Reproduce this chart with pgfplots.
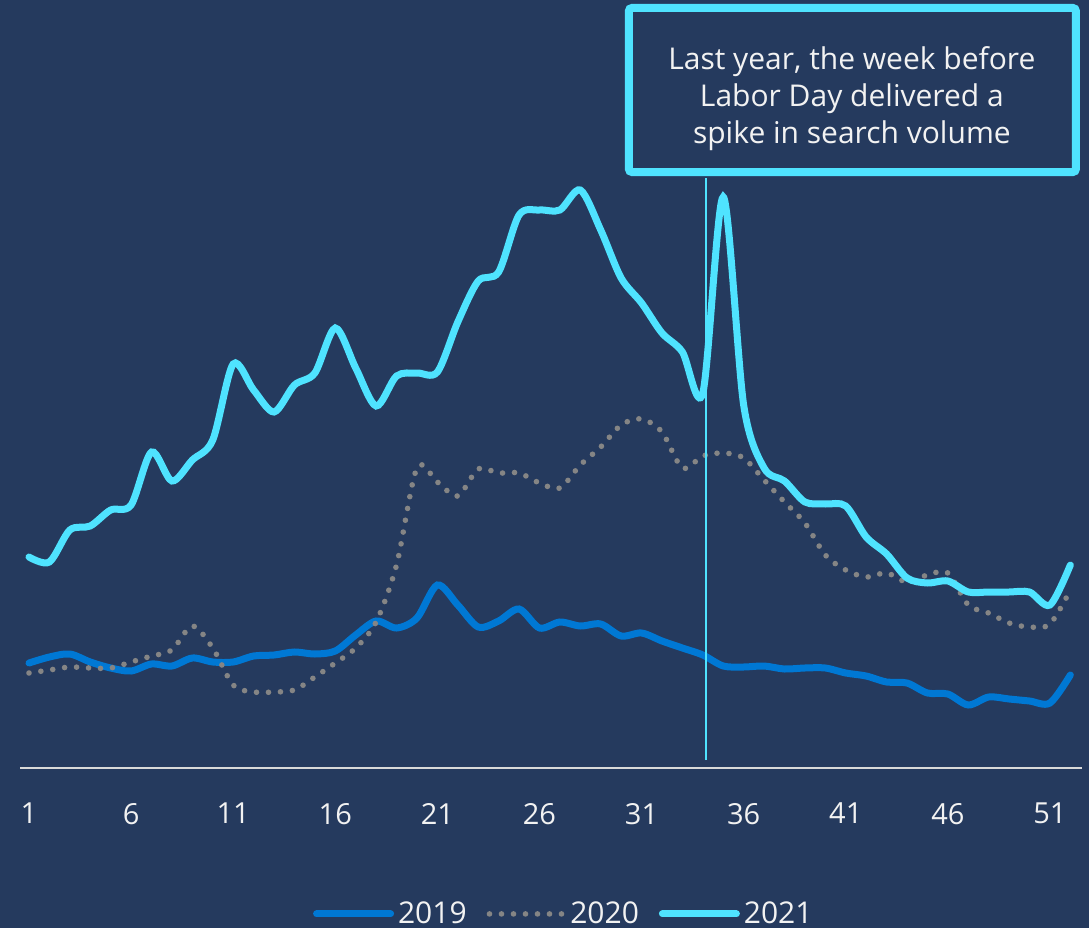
\documentclass[border=0pt]{standalone}
\usepackage{pgfplots}
\pgfplotsset{compat=1.18}
\usepackage{fontspec}
\setmainfont{Open Sans}
\definecolor{bg}{HTML}{253A5E}
\definecolor{cy}{HTML}{4FE3FF}
\definecolor{bl}{HTML}{0078D4}
\definecolor{gr}{HTML}{858585}
\definecolor{tx}{HTML}{F2F2F2}
\definecolor{axl}{HTML}{D9D9D9}
\begin{document}
\begin{tikzpicture}
\fill[bg] (-10pt,-80pt) rectangle (534.5pt,384pt);
\useasboundingbox (-10pt,-80pt) rectangle (534.5pt,384pt);
\begin{axis}[
  at={(0,0)}, anchor=origin,
  scale only axis, width=531pt, height=384pt,
  xmin=0.559, xmax=52.57, ymin=0, ymax=768,
  axis x line=bottom, axis y line=none,
  axis line style={axl, line width=1pt, -},
  xtick={1,6,...,51}, major tick length=0pt,
  xticklabel style={tx, font=\fontsize{14.5}{16}\selectfont, yshift=-14pt},
  /pgf/number format/assume math mode=true,
  clip=false,
  legend style={at={(0.513,-0.19)}, anchor=center, draw=none, fill=none,
    text=tx, font=\fontsize{15}{17}\selectfont, legend columns=3,
    /tikz/every even column/.append style={column sep=8pt}},
  legend image code/.code={\draw[#1] (0pt,0pt) -- (37pt,0pt);},
]
\addplot[bl, line width=3.5pt, smooth, tension=0.5, line cap=round] coordinates {
(1,105)(2,111)(3,114)(4,106)(5,100)(6,97)(7,104)(8,102)(9,110)(10,106)
(11,106)(12,112)(13,113)(14,116)(15,114)(16,117)(17,133)(18,147)(19,140)(20,150)
(21,183)(22,163)(23,141)(24,147)(25,159)(26,140)(27,146)(28,142)(29,144)(30,132)
(31,135)(32,127)(33,120)(34,113)(35,102)(36,101)(37,102)(38,99)(39,100)(40,100)
(41,95)(42,92)(43,86)(44,85)(45,75)(46,74)(47,63)(48,71)(49,69)(50,67)
(51,65)(52,93)};
\addlegendentry{2019}
\addplot[gr, line width=2.8pt, smooth, tension=0.5, line cap=round, dash pattern=on 0pt off 6pt] coordinates {
(1,95)(2,98)(3,101)(4,100)(5,100)(6,106)(7,112)(8,118)(9,142)(10,120)
(11,83)(12,76)(13,76)(14,78)(15,91)(16,105)(17,120)(18,146)(19,203)(20,300)
(21,286)(22,272)(23,299)(24,295)(25,295)(26,285)(27,280)(28,303)(29,321)(30,343)
(31,349)(32,336)(33,300)(34,312)(35,315)(36,310)(37,288)(38,266)(39,245)(40,213)
(41,198)(42,191)(43,195)(44,186)(45,193)(46,195)(47,163)(48,155)(49,145)(50,141)
(51,144)(52,178)};
\addlegendentry{2020}
\addplot[cy, line width=3.5pt, smooth, tension=0.5, line cap=round] coordinates {
(1,211)(2,206)(3,238)(4,242)(5,258)(6,263)(7,316)(8,287)(9,308)(10,328)
(11,404)(12,378)(13,356)(14,383)(15,395)(16,440)(17,400)(18,362)(19,392)(20,395)
(21,396)(22,446)(23,487)(24,496)(25,553)(26,558)(27,558)(28,578)(29,538)(30,490)
(31,465)(32,435)(33,416)(34,375)(35,571)(36,363)(37,300)(38,287)(39,266)(40,264)
(41,262)(42,231)(43,214)(44,190)(45,185)(46,187)(47,176)(48,176)(49,176)(50,176)
(51,163)(52,203)};
\addlegendentry{2021}
\addplot[cy, line width=1pt, forget plot] coordinates {(34.15,8)(34.15,590)};
\draw[cy, line width=4pt, rounded corners=1.5pt, fill=bg] (axis cs:30.38,596) rectangle (axis cs:52.27,760);
\node[tx, align=center, font=\fontsize{15}{18.5}\selectfont] at (axis cs:41.3,669)
  {Last year, the week before\\Labor Day delivered a\\spike in search volume};
\end{axis}
\end{tikzpicture}
\end{document}
